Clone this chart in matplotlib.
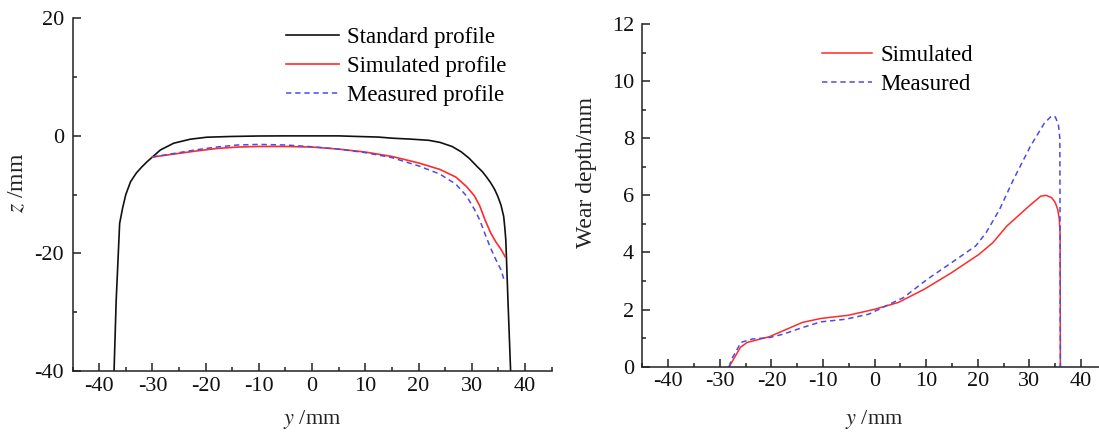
import matplotlib
matplotlib.use("Agg")
import matplotlib.pyplot as plt
from matplotlib.ticker import MultipleLocator

plt.rcParams['font.family'] = ['Liberation Serif', 'DejaVu Serif']
plt.rcParams['mathtext.fontset'] = 'stix'
plt.rcParams['axes.unicode_minus'] = False

# ---- Rail head profiles (lateral position y, vertical position z), mm ----
std_y = [-37.2, -36.8, -36.15, -35.6, -35.0, -34.1, -33.0, -32.0, -31.0, -30.0, -28.5,
         -26.0, -22.9, -19.8, -15.2, -10.0, -5.0, 0.0, 5.0, 8.5, 12.4, 15.2, 18.5,
         21.9, 24.0, 26.3, 28.0, 29.5, 31.0, 32.0, 32.7, 33.5, 34.3, 34.9, 35.5, 36.0,
         36.2, 36.4, 36.8, 37.3]
std_z = [-40.0, -28.0, -14.9, -12.3, -10.0, -7.8, -6.3, -5.3, -4.4, -3.6, -2.4,
         -1.25, -0.57, -0.23, -0.1, -0.02, 0.0, 0.0, 0.0, -0.1, -0.2, -0.4, -0.55,
         -0.75, -1.1, -1.8, -2.7, -3.8, -5.2, -6.1, -6.9, -7.9, -9.1, -10.3, -11.8,
         -13.7, -15.5, -17.7, -27.9, -40.0]

sim_y = [-30.0, -28.0, -26.0, -22.0, -18.0, -14.0, -10.0, -5.0, 0.0, 5.0, 10.0, 15.0,
         20.0, 24.0, 27.0, 29.0, 30.5, 31.5, 32.5, 33.5, 34.5, 35.5, 36.3]
sim_z = [-3.6, -3.35, -3.1, -2.6, -2.15, -1.9, -1.8, -1.8, -1.9, -2.25, -2.75, -3.5,
         -4.6, -5.7, -7.0, -8.6, -10.2, -11.9, -14.3, -16.4, -18.0, -19.3, -20.6]

mea_y = [-30.0, -28.0, -26.0, -22.0, -18.0, -14.0, -10.0, -5.0, 0.0, 5.0, 10.0, 15.0,
         20.0, 24.0, 27.0, 29.0, 30.5, 31.5, 32.5, 33.5, 34.5, 35.5, 36.0]
mea_z = [-3.6, -3.3, -3.0, -2.4, -1.9, -1.55, -1.45, -1.55, -1.85, -2.25, -2.85, -3.7,
         -5.1, -6.5, -8.2, -10.2, -12.5, -14.3, -16.7, -19.0, -21.0, -22.8, -24.3]

# ---- Wear depth along the profile, mm ----
wsim_y = [-28.2, -26.0, -24.7, -20.4, -17.7, -14.0, -10.4, -5.1, 0.0, 4.6, 9.6, 14.9,
          20.2, 22.9, 25.6, 29.9, 32.2, 33.2, 34.3, 35.0, 35.5, 35.8, 35.95, 36.0]
wsim_d = [0.0, 0.68, 0.85, 1.05, 1.26, 1.55, 1.69, 1.80, 2.01, 2.25, 2.71, 3.29,
          3.93, 4.34, 4.92, 5.62, 5.97, 6.0, 5.92, 5.75, 5.5, 5.15, 4.6, 0.0]

wmea_y = [-28.2, -27.7, -25.9, -23.7, -20.4, -17.7, -14.0, -10.4, -5.7, -1.1, 2.9, 5.6,
          10.2, 14.9, 19.6, 21.6, 24.2, 26.9, 30.2, 32.9, 34.3, 35.0, 35.6, 35.9, 36.0]
wmea_d = [0.0, 0.27, 0.85, 0.97, 1.02, 1.14, 1.37, 1.57, 1.66, 1.84, 2.19, 2.42,
          3.06, 3.64, 4.23, 4.69, 5.5, 6.55, 7.72, 8.53, 8.78, 8.75, 8.5, 8.0, 0.0]

RED = '#ff2a2a'
BLUE = '#4b4bea'
AXC = '#222222'

fig = plt.figure(figsize=(10.99, 4.32), dpi=100)
ax1 = fig.add_axes([0.066, 0.1412, 0.4359, 0.8164])
ax2 = fig.add_axes([0.5846, 0.1512, 0.4225, 0.7933])


def style(ax, xmaj, xmin, ymaj, ymin):
    for s in ('top', 'right'):
        ax.spines[s].set_visible(False)
    for s in ('left', 'bottom'):
        ax.spines[s].set_color(AXC)
        ax.spines[s].set_linewidth(1.1)
    ax.xaxis.set_major_locator(MultipleLocator(xmaj))
    ax.xaxis.set_minor_locator(MultipleLocator(xmin))
    ax.yaxis.set_major_locator(MultipleLocator(ymaj))
    ax.yaxis.set_minor_locator(MultipleLocator(ymin))
    ax.tick_params(which='both', direction='in', color=AXC, width=1.1,
                   labelsize=16, labelcolor='#111111')
    ax.tick_params(which='major', length=5.5)
    ax.tick_params(which='minor', length=2.8)
    ax.tick_params(axis='x', pad=4)
    ax.tick_params(axis='y', pad=6)


# Left panel: profiles
ax1.plot(std_y, std_z, color='#111111', lw=1.2, label='Standard profile')
ax1.plot(sim_y, sim_z, color=RED, lw=1.2, label='Simulated profile')
ax1.plot(mea_y, mea_z, color=BLUE, lw=1.1, ls=(0, (3.5, 2.5)), label='Measured profile')
ax1.set_xlim(-45, 45)
ax1.set_ylim(-40, 20)
style(ax1, 10, 5, 20, 10)
ax1.set_xlabel(r'$y$ /mm', fontsize=16, color='#222222')
ax1.set_ylabel(r'$z$ /mm', fontsize=17, color='#222222')
ax1.xaxis.set_label_coords(0.5, -0.105)
ax1.yaxis.set_label_coords(-0.093, 0.533)
ax1.legend(loc='upper left', bbox_to_anchor=(286 / 1099, 1 - 27 / 432),
           bbox_transform=fig.transFigure, frameon=False, fontsize=16.5,
           handlelength=2.3, handletextpad=0.35, labelspacing=0.35,
           borderpad=0, borderaxespad=0)

# Right panel: wear depth
ax2.plot(wsim_y, wsim_d, color=RED, lw=1.1, label='Simulated')
ax2.plot(wmea_y, wmea_d, color=BLUE, lw=1.1, ls=(0, (3.5, 2.5)), label='Measured')
ax2.set_xlim(-45, 45)
ax2.set_ylim(0, 12)
style(ax2, 10, 5, 2, 1)
ax2.set_xlabel(r'$y$ /mm', fontsize=16, color='#222222')
ax2.set_ylabel('Wear depth/mm', fontsize=17, color='#222222')
ax2.xaxis.set_label_coords(0.5, -0.1205)
ax2.yaxis.set_label_coords(-0.098, 0.568)
ax2.legend(loc='upper left', bbox_to_anchor=(822 / 1099, 1 - 45 / 432),
           bbox_transform=fig.transFigure, frameon=False, fontsize=16.5,
           handlelength=2.2, handletextpad=0.35, labelspacing=0.35,
           borderpad=0, borderaxespad=0)

fig.savefig('out.png', dpi=100)
